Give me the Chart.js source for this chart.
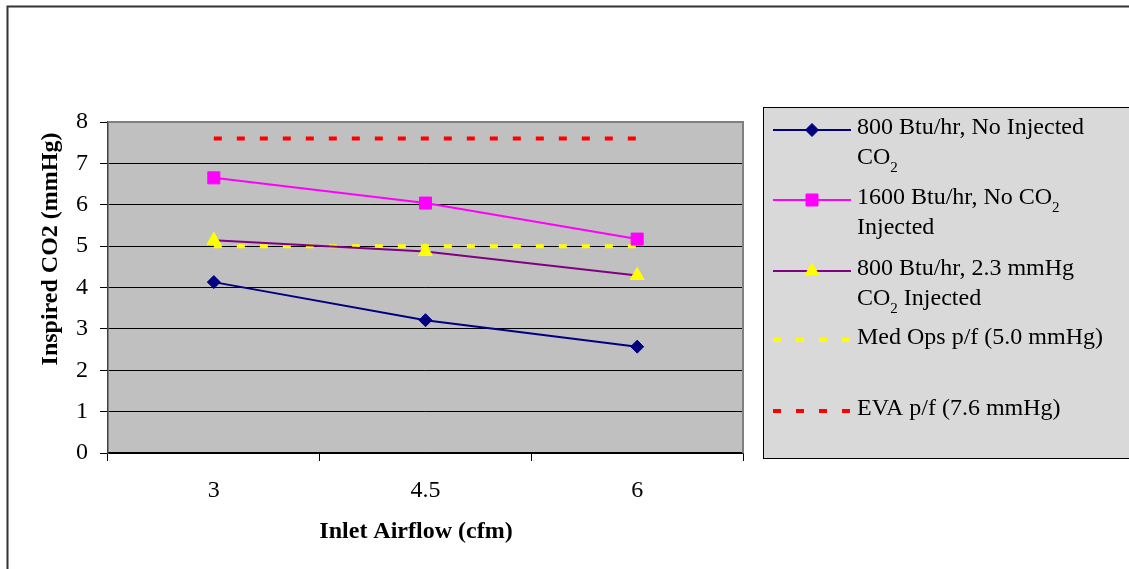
<!DOCTYPE html>
<html>
<head>
<meta charset="utf-8">
<script src="https://cdn.jsdelivr.net/npm/chart.js@4/dist/chart.umd.min.js"></script>
<style>
  html, body { margin: 0; padding: 0; background: #fff; }
  #wrap { width: 1129px; height: 569px; position: relative; }
</style>
</head>
<body>
<div id="wrap"><canvas id="chart"></canvas></div>
<script>
// values
const airflow = ['3', '4.5', '6']
const noInjected800 = [4.13, 3.21, 2.57]
const noInjected1600 = [6.65, 6.04, 5.17]
const injected800 = [5.14, 4.87, 4.29]
const medOpsLimit = [5.0, 5.0, 5.0]
const evaLimit = [7.6, 7.6, 7.6]
const yMin = 0
const yMax = 8

const xTitle = 'Inlet Airflow (cfm)'
const yTitle = 'Inspired CO2 (mmHg)'

// legend text, "_2" marks a subscript 2
const legendText = [
    ['800 Btu/hr, No Injected', 'CO_2'],
    ['1600 Btu/hr, No CO_2', 'Injected'],
    ['800 Btu/hr, 2.3 mmHg', 'CO_2 Injected'],
    ['Med Ops p/f (5.0 mmHg)'],
    ['EVA p/f (7.6 mmHg)']
]

const serif = '"Liberation Serif", "Times New Roman", serif'

// gray plot background and frame
const plotBackground = {
    id: 'plotBackground',
    beforeDraw(chart) {
        const { ctx, chartArea: a } = chart
        ctx.save()
        ctx.fillStyle = '#c0c0c0'
        ctx.fillRect(a.left, a.top, a.right - a.left, a.bottom - a.top)
        ctx.restore()
    },
    afterDraw(chart) {
        const { ctx, chartArea: a } = chart
        ctx.save()
        // plot area border top / right
        ctx.strokeStyle = '#808080'
        ctx.lineWidth = 2
        ctx.beginPath()
        ctx.moveTo(a.left, a.top)
        ctx.lineTo(a.right, a.top)
        ctx.lineTo(a.right, a.bottom)
        ctx.stroke()
        // outer frame (top and left edges only visible)
        ctx.strokeStyle = '#333'
        ctx.lineWidth = 2
        ctx.beginPath()
        ctx.moveTo(7.5, 569)
        ctx.lineTo(7.5, 6.5)
        ctx.lineTo(1129, 6.5)
        ctx.stroke()
        ctx.restore()
    }
}

// axis titles sit a bit off-centre in the original
const axisTitles = {
    id: 'axisTitles',
    afterDraw(chart) {
        const ctx = chart.ctx
        ctx.save()
        ctx.fillStyle = '#000'
        ctx.font = 'bold 24px ' + serif
        ctx.textAlign = 'center'
        ctx.textBaseline = 'middle'
        ctx.fillText(xTitle, 416, 532)
        ctx.translate(51, 249)
        ctx.rotate(-Math.PI / 2)
        ctx.fillText(yTitle, 0, 0)
        ctx.restore()
    }
}

function drawRichText(ctx, text, x, y) {
    const parts = text.split(/(_2)/)
    let cx = x
    for (const p of parts) {
        if (p === '_2') {
            ctx.font = '15px ' + serif
            ctx.fillText('2', cx, y + 10)
            cx += ctx.measureText('2').width
        } else if (p) {
            ctx.font = '24px ' + serif
            ctx.fillText(p, cx, y)
            cx += ctx.measureText(p).width
        }
    }
}

// legend box on the right
const boxLegend = {
    id: 'boxLegend',
    afterDraw(chart) {
        const ctx = chart.ctx
        const itemY = [130, 200, 271, 340, 411]
        ctx.save()
        ctx.fillStyle = '#d9d9d9'
        ctx.fillRect(763.5, 107.5, 380, 351)
        ctx.strokeStyle = '#000'
        ctx.lineWidth = 1
        ctx.strokeRect(763.5, 107.5, 380, 351)

        chart.data.datasets.forEach((ds, i) => {
            const y = itemY[i]
            ctx.save()
            ctx.strokeStyle = ds.borderColor
            ctx.lineWidth = ds.borderWidth
            ctx.setLineDash(ds.borderDash || [])
            ctx.beginPath()
            ctx.moveTo(773, y)
            ctx.lineTo(851, y)
            ctx.stroke()
            ctx.restore()
            if (ds.pointRadius > 0) {
                ctx.save()
                ctx.fillStyle = ds.pointBackgroundColor
                ctx.strokeStyle = ds.pointBorderColor
                ctx.lineWidth = 1
                Chart.helpers.drawPoint(ctx, {
                    pointStyle: ds.pointStyle,
                    radius: ds.pointRadius,
                    rotation: 0,
                    borderWidth: 1
                }, 812, y)
                ctx.restore()
            }
            ctx.fillStyle = '#000'
            ctx.textBaseline = 'middle'
            ctx.textAlign = 'left'
            legendText[i].forEach((line, k) => {
                drawRichText(ctx, line, 857, y - 2 + k * 30)
            })
        })
        ctx.restore()
    }
}

new Chart(document.getElementById('chart'), {
    type: 'line',
    data: {
        labels: airflow,
        datasets: [
            {
                label: '800 Btu/hr, No Injected CO2',
                data: noInjected800,
                borderColor: '#000080',
                borderWidth: 2,
                pointStyle: 'rectRot',
                pointRadius: 6.5,
                pointBackgroundColor: '#000080',
                pointBorderColor: '#000080',
                pointBorderWidth: 1,
                order: 3
            },
            {
                label: '1600 Btu/hr, No CO2 Injected',
                data: noInjected1600,
                borderColor: '#ff00ff',
                borderWidth: 2,
                pointStyle: 'rect',
                pointRadius: 8.5,
                pointBackgroundColor: '#ff00ff',
                pointBorderColor: '#ff00ff',
                pointBorderWidth: 1,
                order: 4
            },
            {
                label: '800 Btu/hr, 2.3 mmHg CO2 Injected',
                data: injected800,
                borderColor: '#800080',
                borderWidth: 2,
                pointStyle: 'triangle',
                pointRadius: 8,
                pointBackgroundColor: '#ffff00',
                pointBorderColor: '#ffff00',
                pointBorderWidth: 1,
                order: 2
            },
            {
                label: 'Med Ops p/f (5.0 mmHg)',
                data: medOpsLimit,
                borderColor: '#ffff00',
                borderWidth: 4,
                borderDash: [8, 15],
                borderCapStyle: 'butt',
                pointRadius: 0,
                order: 5
            },
            {
                label: 'EVA p/f (7.6 mmHg)',
                data: evaLimit,
                borderColor: '#ff0000',
                borderWidth: 4,
                borderDash: [8, 15],
                borderCapStyle: 'butt',
                pointRadius: 0,
                order: 1
            }
        ]
    },
    options: {
        responsive: true,
        maintainAspectRatio: false,
        animation: false,
        layout: {
            padding: { top: 122, right: 386, left: 0, bottom: 0 }
        },
        plugins: {
            legend: { display: false },
            tooltip: { enabled: false }
        },
        scales: {
            x: {
                type: 'category',
                offset: true,
                afterFit: (scale) => { scale.height = 116 },
                grid: {
                    offset: true,
                    drawOnChartArea: false,
                    drawTicks: true,
                    tickLength: 8,
                    tickColor: '#000'
                },
                border: { color: '#000', width: 1.5 },
                ticks: {
                    color: '#000',
                    padding: 15,
                    font: { family: serif, size: 24 }
                }
            },
            y: {
                min: yMin,
                max: yMax,
                afterFit: (scale) => { scale.width = 108 },
                grid: {
                    color: (c) => c.tick && c.tick.value === yMax ? 'rgba(0,0,0,0)' : '#000',
                    lineWidth: 1,
                    tickLength: 8,
                    tickColor: '#000'
                },
                border: { color: '#404040', width: 1.5 },
                ticks: {
                    stepSize: 1,
                    color: '#000',
                    padding: 12,
                    font: { family: serif, size: 24 }
                }
            }
        }
    },
    plugins: [plotBackground, axisTitles, boxLegend]
})
</script>
</body>
</html>
